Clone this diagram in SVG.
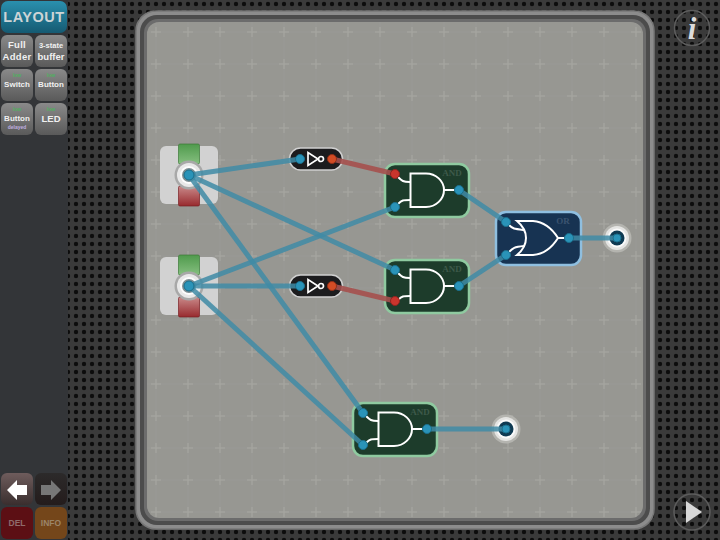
<svg xmlns="http://www.w3.org/2000/svg" width="720" height="540" viewBox="0 0 720 540">
<defs>
<pattern id="holes" x="0" y="0" width="8" height="8" patternUnits="userSpaceOnUse"><rect width="8" height="8" fill="#3a3a3a"/><circle cx="4" cy="4" r="2.200" fill="#0c0c0c"/></pattern>
<pattern id="gridp" x="140" y="16" width="32" height="32" patternUnits="userSpaceOnUse"><path d="M0 16H32M16 0V32" stroke="#a3a39e" stroke-width="1" opacity=".18"/><path d="M11 16H21M16 11V21" stroke="#bcbcb7" stroke-width="1" opacity=".4"/></pattern>
<linearGradient id="teal" x1="0" y1="0" x2="0" y2="1"><stop offset="0" stop-color="#2a90ae"/><stop offset="1" stop-color="#155a72"/></linearGradient>
<linearGradient id="grey" x1="0" y1="0" x2="0" y2="1"><stop offset="0" stop-color="#8a8a8a"/><stop offset="1" stop-color="#5a5a5a"/></linearGradient>
<linearGradient id="gtab" x1="0" y1="0" x2="0" y2="1"><stop offset="0" stop-color="#4f9a4c"/><stop offset="1" stop-color="#86bf80"/></linearGradient>
<linearGradient id="rtab" x1="0" y1="0" x2="0" y2="1"><stop offset="0" stop-color="#c98a8a"/><stop offset="1" stop-color="#982a2e"/></linearGradient>
<linearGradient id="larrow" x1="0" y1="0" x2="0" y2="1"><stop offset="0" stop-color="#6e5c5c"/><stop offset="1" stop-color="#3a2e2e"/></linearGradient>
<linearGradient id="darrow" x1="0" y1="0" x2="0" y2="1"><stop offset="0" stop-color="#2c2a2a"/><stop offset="1" stop-color="#241c1c"/></linearGradient>
<g id="andg" fill="none" stroke="#fff" stroke-width="2">
<path d="M410.500 173.500H426C436 173.500 444 181 444 190C444 199 436 207 426 207H410.500Z"/>
<path d="M398 177C402 181 403 182 410 182M398 204C402 200 403 200 410 200M444 190H456"/>
</g>
<g id="orp" fill="none" stroke="#fff" stroke-width="2">
<path d="M517 221H533C545 222 553 230 558 238C553 246 545 254 533 255H517C523 250 526 245 526 238C526 231 523 226 517 221Z"/>
<path d="M509 225C513 229 514 229 524 230M509 252C513 248 514 247 524 246M558 238H566"/>
</g>
<g id="sw">
<rect x="-29" y="-29" width="58" height="58" rx="6" fill="#d2d2d2"/>
<rect x="-10.500" y="-31" width="21" height="20" rx="1.500" fill="url(#gtab)" stroke="#3c7a38" stroke-width=".7"/>
<rect x="-10.500" y="11" width="21" height="20" rx="1.500" fill="url(#rtab)" stroke="#7a2024" stroke-width=".7"/>
<circle r="14.500" fill="#a8a8a8"/><circle r="12" fill="#e8e8e8"/><circle r="9" fill="#fdfdfd"/><circle r="7" fill="#7c8c90"/>
</g>
<g id="led"><circle r="14.500" fill="#b4b4af"/><circle r="12" fill="#e4e4e2"/><circle r="9.500" fill="#fafafa"/><circle r="7.500" fill="#0f3a52"/></g>
<g id="notg" fill="none" stroke="#fff" stroke-width="1.700"><path d="M308 6.500V-6.500L318 0Z"/><circle cx="321" cy="0" r="2.500"/></g>
</defs>
<style>
.port{fill:#2a93b8;stroke:#1b6f8c;stroke-width:1}
.red{fill:#c9352d;stroke:#8f2420;stroke-width:1}
.org{fill:#d24c25;stroke:#8f2f18;stroke-width:1}
.wire{stroke:#3f8ba6;stroke-width:5;fill:none;opacity:.85}
.wr{stroke:#a5504e;stroke-width:5;fill:none;opacity:.9}
.g{fill:#1d3c2b;stroke:#8fcaa0;stroke-width:2.500}
.b{fill:#173352;stroke:#8fbfe0;stroke-width:2.500}
.pill{fill:#1c1c1e;stroke:#d0d0d0;stroke-width:1.500}
.t{font-family:"Liberation Sans",Arial,sans-serif;font-weight:700;text-anchor:middle}
.bt{font-size:9.500px;fill:#f0f0f0;letter-spacing:.3px}
.low{font-size:5px;fill:#4fb060}
.gl{font-family:"Liberation Serif",serif;font-weight:700;font-size:9px;fill:#3e5a4a;text-anchor:middle}
</style>
<rect width="720" height="540" fill="url(#holes)"/>
<rect width="68" height="540" fill="#333538"/>

<g id="board">
<rect x="136" y="11" width="518" height="518" rx="20" fill="#8c8c8c" stroke="#777" stroke-width="1.500"/>
<rect x="140" y="15" width="510" height="510" rx="17" fill="#4c4c4c"/>
<rect x="144" y="19" width="502" height="502" rx="14" fill="#6c6c6c"/>
<rect x="147" y="22" width="496" height="496" rx="12" fill="#979792"/>
<rect x="147" y="22" width="496" height="496" rx="12" fill="url(#gridp)"/>
</g>

<g id="switch1"><use href="#sw" transform="translate(189 175)"/></g>
<g id="switch2"><use href="#sw" transform="translate(189 286)"/></g>
<g id="not1"><rect class="pill" x="289.500" y="148" width="53" height="22" rx="11"/><use href="#notg" transform="translate(0 159)"/></g>
<g id="not2"><rect class="pill" x="289.500" y="275" width="53" height="22" rx="11"/><use href="#notg" transform="translate(0 286)"/></g>
<g id="and1"><rect class="g" x="385" y="164" width="84" height="53" rx="10"/><use href="#andg"/><text class="gl" x="452" y="176">AND</text></g>
<g id="and2"><rect class="g" x="385" y="260" width="84" height="53" rx="10"/><use href="#andg" transform="translate(0 96)"/><text class="gl" x="452" y="272">AND</text></g>
<g id="or1"><rect class="b" x="496" y="212" width="85" height="53" rx="10"/><use href="#orp"/><text class="gl" x="563" y="224" style="fill:#3b5470">OR</text></g>
<g id="and3"><rect class="g" x="353" y="403" width="84" height="53" rx="10"/><use href="#andg" transform="translate(-32 239)"/><text class="gl" x="420" y="415">AND</text></g>
<g id="led1"><use href="#led" transform="translate(617 238)"/></g>
<g id="led2"><use href="#led" transform="translate(506 429)"/></g>

<g id="connectors">
<path class="wire" d="M189 175L300 159"/>
<path class="wire" d="M189 175L395 270"/>
<path class="wire" d="M189 175L363 413"/>
<path class="wire" d="M189 286L395 207"/>
<path class="wire" d="M189 286L300 286"/>
<path class="wire" d="M189 286L363 445"/>
<path class="wr" d="M332 159L395 174"/>
<path class="wr" d="M332 286L395 301"/>
<path class="wire" d="M459 190L506 222"/>
<path class="wire" d="M459 286L506 255"/>
<path class="wire" d="M569 238L617 238"/>
<path class="wire" d="M427 429L506 429"/>
</g>

<g id="ports">
<circle class="port" cx="189" cy="175" r="5"/><circle class="port" cx="189" cy="286" r="5"/>
<circle class="port" cx="300" cy="159" r="4.500"/><circle class="org" cx="332" cy="159" r="4.500"/>
<circle class="port" cx="300" cy="286" r="4.500"/><circle class="org" cx="332" cy="286" r="4.500"/>
<circle class="red" cx="395" cy="174" r="4.500"/><circle class="port" cx="395" cy="207" r="4.500"/><circle class="port" cx="459" cy="190" r="4.500"/>
<circle class="port" cx="395" cy="270" r="4.500"/><circle class="red" cx="395" cy="301" r="4.500"/><circle class="port" cx="459" cy="286" r="4.500"/>
<circle class="port" cx="506" cy="222" r="4.500"/><circle class="port" cx="506" cy="255" r="4.500"/><circle class="port" cx="569" cy="238" r="4.500"/>
<circle class="port" cx="363" cy="413" r="4.500"/><circle class="port" cx="363" cy="445" r="4.500"/><circle class="port" cx="427" cy="429" r="4.500"/>
<circle class="port" cx="617" cy="238" r="4"/><circle class="port" cx="506" cy="429" r="4"/>
</g>

<g id="btn-layout"><rect x="1" y="1" width="66" height="32" rx="7" fill="url(#teal)"/><text class="t" x="34" y="22" font-size="14.500" letter-spacing=".5" fill="#ccd4d6">LAYOUT</text></g>
<g id="btn-adder"><rect x="1" y="35" width="32" height="32" rx="6" fill="url(#grey)"/><text class="t bt" x="17" y="48">Full</text><text class="t bt" x="17" y="60">Adder</text></g>
<g id="btn-buffer"><rect x="35" y="35" width="32" height="32" rx="6" fill="url(#grey)"/><text class="t" x="51" y="48" font-size="7.500" fill="#f0f0f0">3-state</text><text class="t" x="51" y="60" font-size="9.500" fill="#f0f0f0">buffer</text></g>
<g id="btn-switch"><rect x="1" y="69" width="32" height="32" rx="6" fill="url(#grey)"/><text class="t low" x="17" y="77">low</text><text class="t" x="17" y="87" font-size="8" fill="#f0f0f0">Switch</text></g>
<g id="btn-button"><rect x="35" y="69" width="32" height="32" rx="6" fill="url(#grey)"/><text class="t low" x="51" y="77">low</text><text class="t" x="51" y="87" font-size="8" fill="#f0f0f0">Button</text></g>
<g id="btn-delayed"><rect x="1" y="103" width="32" height="32" rx="6" fill="url(#grey)"/><text class="t low" x="17" y="111">low</text><text class="t" x="17" y="121" font-size="8" fill="#f0f0f0">Button</text><text class="t" x="17" y="129" font-size="5" fill="#c0b0e0">delayed</text></g>
<g id="btn-led"><rect x="35" y="103" width="32" height="32" rx="6" fill="url(#grey)"/><text class="t low" x="51" y="111">low</text><text class="t" x="51" y="122" font-size="9.500" fill="#f0f0f0">LED</text></g>

<g id="btn-back"><rect x="1" y="473" width="32" height="32" rx="6" fill="url(#larrow)"/><path d="M7 490L17 480V485H27V495H17V500Z" fill="#fff"/></g>
<g id="btn-forward"><rect x="35" y="473" width="32" height="32" rx="6" fill="url(#darrow)"/><path d="M61 490L51 480V485H41V495H51V500Z" fill="#777"/></g>
<g id="btn-del"><rect x="1" y="507" width="32" height="32" rx="6" fill="#5c0f14"/><text class="t" x="17" y="526" font-size="8.500" fill="#8f6b6b">DEL</text></g>
<g id="btn-info"><rect x="35" y="507" width="32" height="32" rx="6" fill="#74461a"/><text class="t" x="51" y="526" font-size="8.500" fill="#9b8468">INFO</text></g>

<g id="info"><circle cx="692" cy="28" r="17.500" fill="none" stroke="#5c5c5c" stroke-width="1.500"/><text x="692" y="39" font-family="Liberation Serif,serif" font-style="italic" font-weight="700" font-size="31" fill="#dcdcdc" text-anchor="middle">i</text></g>
<g id="play"><circle cx="692" cy="512" r="18" fill="none" stroke="#5c5c5c" stroke-width="1.500"/><path d="M686 501L702 512L686 523Z" fill="#d8d8d8"/></g>
</svg>
